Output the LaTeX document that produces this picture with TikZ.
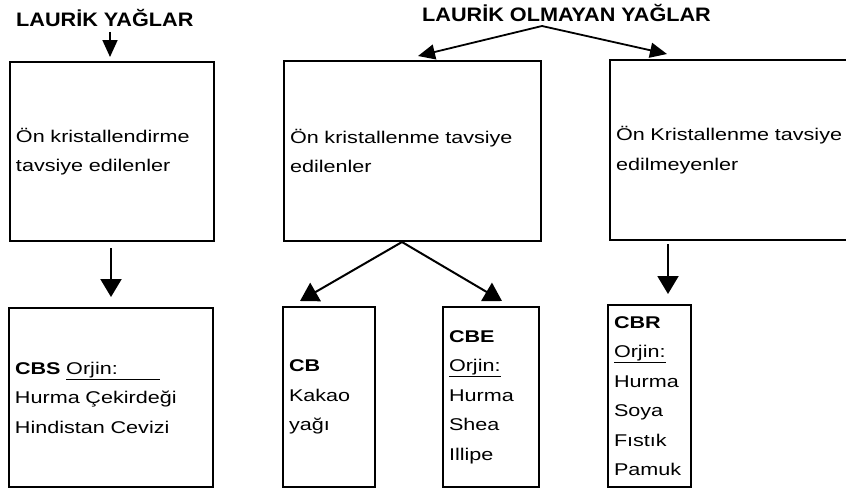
\documentclass[tikz,border=0pt]{standalone}
\usepackage{fontspec}
\setmainfont{Liberation Sans}[FakeStretch=1.27]
\newfontfamily\headfont{Liberation Sans}[FakeStretch=1.11]
\usetikzlibrary{arrows.meta,positioning}

\begin{document}
\begin{tikzpicture}[x=1pt, y=-1pt,
  box/.style={draw, line width=2pt, align=left, inner sep=6pt,
              font=\fontsize{17}{29.5}\selectfont},
  title/.style={font=\fontsize{19.5}{22}\headfont\bfseries, inner sep=0pt},
  arr/.style={line width=2pt, -{Triangle[width=21pt,length=18pt]}},
  arrs/.style={line width=1.8pt, -{Triangle[width=15pt,length=17pt]}}]
  \useasboundingbox (0,0) rectangle (846,491);
  % headings
  \node[title, anchor=base west] (tLaurik) at (16,26.5) {LAURİK YAĞLAR};
  \node[title, anchor=base west] (tOlmayan) at (422,21.5) {LAURİK OLMAYAN YAĞLAR};
  % upper boxes
  \node[box, minimum width=204pt, minimum height=179pt, text width=192pt] (boxA) at (112,151.5)
    {Ön kristallendirme\\tavsiye edilenler};
  \node[box, minimum width=257pt, minimum height=180pt, text width=245pt] (boxB) at (412.5,151)
    {Ön kristallenme tavsiye\\edilenler};
  \node[box, minimum width=260pt, minimum height=180pt, text width=248pt] (boxC) at (740,150)
    {Ön Kristallenme tavsiye\\edilmeyenler};
  % lower boxes
  \node[box, minimum width=204pt, minimum height=179pt, text width=192pt] (boxCBS) at (111,397.5)
    {\textbf{CBS} \underline{Orjin:\hspace*{42pt}}\\Hurma Çekirdeği\\Hindistan Cevizi};
  \node[box, minimum width=92pt, minimum height=180pt, text width=80pt] (boxCB) at (329,397)
    {\textbf{CB}\\Kakao\\yağı};
  \node[box, minimum width=96pt, minimum height=180pt, text width=84pt] (boxCBE) at (491,397)
    {\textbf{CBE}\\\underline{Orjin:}\\Hurma\\Shea\\Illipe};
  \node[box, minimum width=83pt, minimum height=182pt, text width=71pt] (boxCBR) at (649.5,396)
    {\textbf{CBR}\\\underline{Orjin:}\\Hurma\\Soya\\Fıstık\\Pamuk};
  % connector points
  \coordinate (splitTop) at (542,26);
  \coordinate (tipB) at (418,56);
  \coordinate (tipC) at (667,54);
  \coordinate (splitB) at (402,242);
  \coordinate (tipCB) at (300,301);
  \coordinate (tipCBE) at (502,301);
  \coordinate (fromC) at (668,244);
  % arrows
  \draw[arrs] (tLaurik.south -| 110,0) ++(0,5) -- (110,57);
  \draw[arrs] (splitTop) -- (tipB);
  \draw[arrs] (splitTop) -- (tipC);
  \draw[arr, shorten <=6pt, shorten >=10pt] (boxA.south -| 111,0) -- (boxCBS.north -| 111,0);
  \draw[arr] (splitB) -- (tipCB);
  \draw[arr] (splitB) -- (tipCBE);
  \draw[arr, shorten >=10pt] (fromC) -- (boxCBR.north -| fromC);
\end{tikzpicture}
\end{document}
